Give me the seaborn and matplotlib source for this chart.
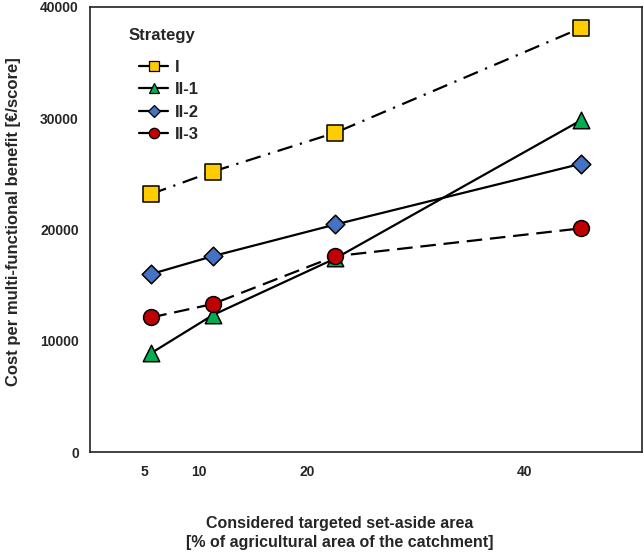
import numpy as np
import pandas as pd
import matplotlib
matplotlib.use("Agg")
import matplotlib.pyplot as plt
import seaborn as sns
from matplotlib.lines import Line2D

# set-aside area [% of agricultural area]
area = [5, 10, 20, 40]

# cost per multi-functional benefit [EUR/score]
cost_I = [23200, 25200, 28700, 38100]
cost_II1 = [8900, 12300, 17400, 29800]
cost_II2 = [16000, 17600, 20450, 25900]
cost_II3 = [12100, 13300, 17600, 20100]

strategies = ["I", "II-1", "II-2", "II-3"]
colors = {"I": "#FFCC00", "II-1": "#00B050", "II-2": "#4472C4", "II-3": "#C00000"}
markers = {"I": "s", "II-1": "^", "II-2": "D", "II-3": "o"}
dashes = {"I": (7, 3.5, 1, 3.5), "II-1": "", "II-2": "", "II-3": (7, 3.5)}
sizes = {"I": 120, "II-1": 140, "II-2": 90, "II-3": 130}

df = pd.DataFrame({
	"area": area * 4,
	"cost": cost_I + cost_II1 + cost_II2 + cost_II3,
	"strategy": [s for s in strategies for _ in area],
})

sns.set_style("white")
plt.rcParams["font.family"] = ["Liberation Sans", "DejaVu Sans"]
plt.rcParams["font.weight"] = "bold"

fig = plt.figure(figsize=(6.44, 5.53), dpi=100)
ax = fig.add_axes([90 / 644, 101 / 553, 552 / 644, 445 / 553])

# lines in black with strategy dash patterns
sns.lineplot(data=df, x="area", y="cost", style="strategy", dashes=dashes,
	hue="strategy", palette={s: "black" for s in strategies},
	linewidth=1.6, legend=False, ax=ax)

# coloured markers on top
for s in strategies:
	sub = df[df["strategy"] == s]
	sns.scatterplot(data=sub, x="area", y="cost", color=colors[s], marker=markers[s],
		s=sizes[s], edgecolor="black", linewidth=1.1, zorder=5, legend=False, ax=ax)

ax.set_xlim(0, 45)
ax.set_ylim(0, 40000)
ax.set_yticks([0, 10000, 20000, 30000, 40000])
ax.tick_params(axis="y", length=0, pad=8, labelsize=10)
ax.set_xticks([])
ax.set_ylabel("Cost per multi-functional benefit [€/score]", fontsize=12, fontweight="bold")
ax.yaxis.set_label_coords(-0.125, 0.517)
ax.set_xlabel("Considered targeted set-aside area\n[% of agricultural area of the catchment]",
	fontsize=11.5, fontweight="bold", linespacing=1.4)
ax.xaxis.set_label_coords(0.453, -0.143)
for sp in ax.spines.values():
	sp.set_visible(True)
	sp.set_color("#222222")
	sp.set_linewidth(1.2)

# category labels as drawn in the original (slightly shifted scale)
sec = ax.secondary_xaxis("bottom", functions=(lambda x: x / 0.885, lambda x: x * 0.885))
sec.set_xticks(area)
sec.set_xticklabels([str(a) for a in area])
sec.tick_params(length=0, pad=9, labelsize=10)
sec.spines["bottom"].set_visible(False)

# legend: title drawn separately so it sits left of the handles
ax.text(0.069, 0.937, "Strategy", transform=ax.transAxes, fontsize=12, fontweight="bold",
	ha="left", va="center")
handles = [Line2D([], [], color="black", linewidth=1.6, marker=markers[s], markersize=7.5 if s in ("I", "II-3") else 6.5,
	markerfacecolor=colors[s], markeredgecolor="black", markeredgewidth=0.9) for s in strategies]
leg = ax.legend(handles, strategies, loc="upper left", bbox_to_anchor=(0.0888, 0.882),
	frameon=False, handlelength=1.75, handletextpad=0.4, labelspacing=0.45, numpoints=1,
	borderpad=0, borderaxespad=0, prop={"size": 12, "weight": "bold"})

fig.savefig("out.png", dpi=100)
